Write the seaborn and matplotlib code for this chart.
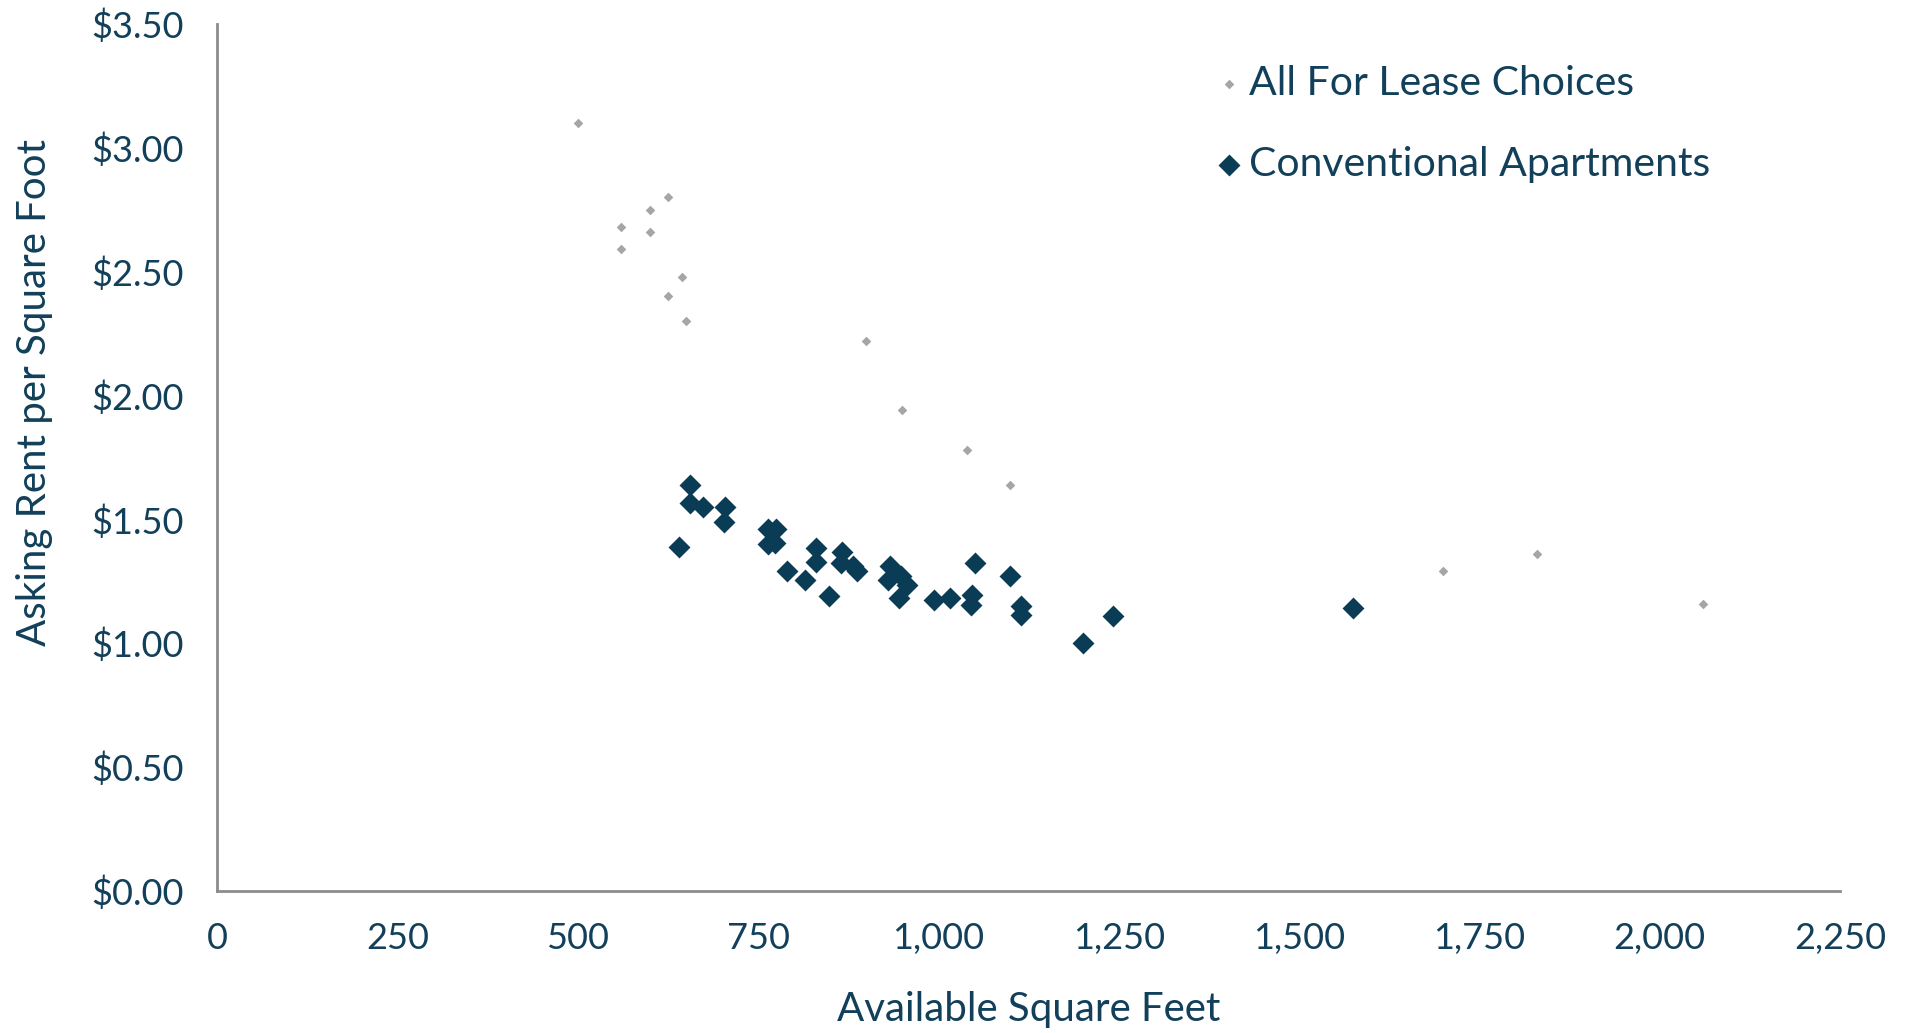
import pandas as pd
import seaborn as sns
import matplotlib.pyplot as plt
from matplotlib.ticker import FuncFormatter

# All For Lease Choices (grey, small)
lease_sqft = [500, 560, 560, 600, 600, 625, 625, 645, 650, 900, 950, 1040, 1100, 1700, 1830, 2060]
lease_rent = [3.10, 2.68, 2.59, 2.75, 2.66, 2.80, 2.40, 2.48, 2.30, 2.22, 1.94, 1.78, 1.64, 1.29, 1.36, 1.16]

# Conventional Apartments (navy, large)
conv_sqft = [640, 655, 655, 674, 704, 703,
             764, 775, 764, 774,
             790, 815, 831, 831, 848,
             866, 865, 882, 887,
             933, 930, 948, 957, 945,
             994, 1016, 1051, 1046, 1045,
             1100, 1115, 1115, 1200, 1242, 1575]
conv_rent = [1.39, 1.64, 1.565, 1.55, 1.55, 1.49,
             1.46, 1.46, 1.40, 1.405,
             1.29, 1.256, 1.383, 1.33, 1.19,
             1.37, 1.325, 1.31, 1.293,
             1.31, 1.256, 1.27, 1.235, 1.183,
             1.175, 1.182, 1.323, 1.195, 1.155,
             1.272, 1.152, 1.115, 1.00, 1.111, 1.142]

x_ticks = [0, 250, 500, 750, 1000, 1250, 1500, 1750, 2000, 2250]
y_ticks = [0, 0.5, 1.0, 1.5, 2.0, 2.5, 3.0, 3.5]

navy = '#0B3C55'
grey = '#A6A6A6'
text_col = '#12405A'
axis_col = '#8C8C8C'

sns.set_style('white')
plt.rcParams['font.family'] = ['Lato', 'DejaVu Sans']

lease = pd.DataFrame({'sqft': lease_sqft, 'rent': lease_rent})
conv = pd.DataFrame({'sqft': conv_sqft, 'rent': conv_rent})

fig = plt.figure(figsize=(19.11, 10.33), dpi=100)
ax = fig.add_axes([0.1136, 0.1375, 0.8492, 0.8393])

sns.scatterplot(data=lease, x='sqft', y='rent', ax=ax, marker='D', s=24,
                color=grey, linewidth=0, label='All For Lease Choices')
sns.scatterplot(data=conv, x='sqft', y='rent', ax=ax, marker='D', s=125,
                color=navy, linewidth=0, label='Conventional Apartments')

ax.set_xlim(0, 2250)
ax.set_ylim(0, 3.5)
ax.set_xticks(x_ticks)
ax.set_yticks(y_ticks)
ax.xaxis.set_major_formatter(FuncFormatter(lambda v, p: f'{int(v):,}'))
ax.yaxis.set_major_formatter(FuncFormatter(lambda v, p: f'${v:.2f}'))

for side in ['top', 'right']:
    ax.spines[side].set_visible(False)
for side in ['left', 'bottom']:
    ax.spines[side].set_color(axis_col)
    ax.spines[side].set_linewidth(2)
ax.tick_params(axis='both', direction='out', length=10, width=1.2, color=axis_col,
               labelsize=26, labelcolor=text_col)
ax.tick_params(axis='y', pad=14)
ax.tick_params(axis='x', pad=12)

ax.set_xlabel('Available Square Feet', fontsize=29, color=text_col, labelpad=26)
ax.set_ylabel('Asking Rent per Square Foot', fontsize=29, color=text_col)
ax.yaxis.set_label_coords(-0.101, 0.575)

leg = ax.legend(loc='upper left', bbox_to_anchor=(0.5906, 0.995), frameon=False,
                fontsize=29.5, labelspacing=1.07, handlelength=0.8,
                handletextpad=0.1, markerscale=1.0)
for t in leg.get_texts():
    t.set_color(text_col)

fig.savefig('out.png', dpi=100)
